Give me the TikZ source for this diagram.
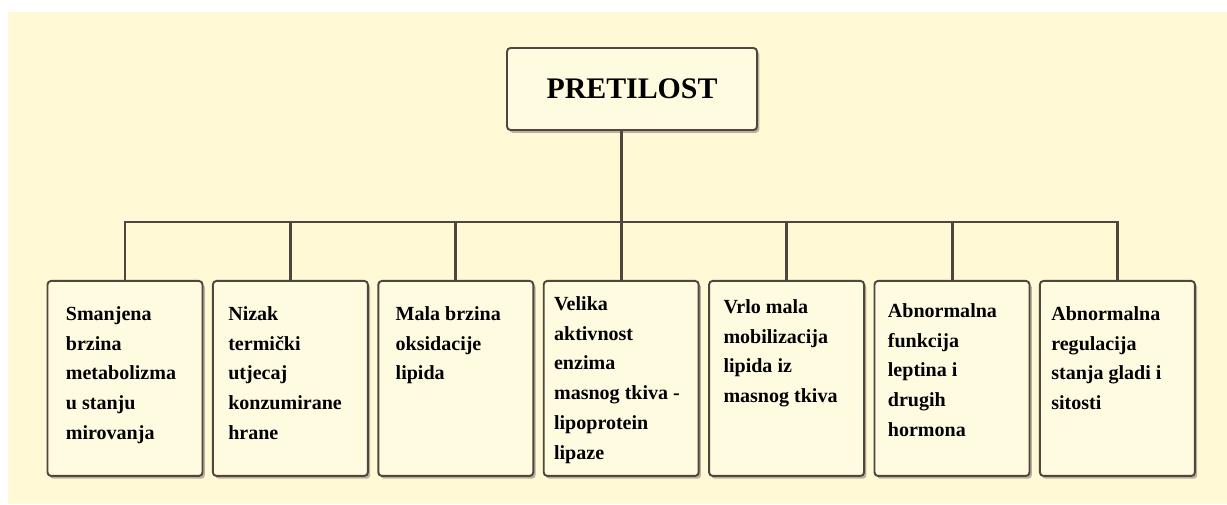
\documentclass[tikz,border=0pt]{standalone}
\usepackage{fontspec}
\setmainfont{Liberation Serif}
\usetikzlibrary{positioning,shadows}
\definecolor{cream}{HTML}{FFF9D6}
\definecolor{boxfill}{HTML}{FFFBE1}
\definecolor{edge}{HTML}{4F463E}
\definecolor{shade}{HTML}{BCB09C}
\tikzset{
  causebox/.style={draw=edge, line width=1.1pt, rounded corners=2pt, fill=boxfill,
    minimum width=3.1cm, minimum height=3.9cm, inner sep=0pt,
    drop shadow={shadow xshift=1.3pt, shadow yshift=-1.6pt, fill=shade, opacity=1}},
  titlebox/.style={causebox, minimum width=5cm, minimum height=1.64cm,
    font=\fontsize{17}{20}\selectfont\bfseries},
  causetext/.style={inner sep=0pt, align=left, anchor=north west,
    font=\fontsize{11.4}{17}\selectfont\bfseries},
  link/.style={draw=edge, line width=1.7pt}
}

\begin{document}
\begin{tikzpicture}[x=0.02cm, y=0.02cm]
  \useasboundingbox (0,0) rectangle (1227,504);
  \fill[cream] (8,0) rectangle (1227,492);

  \node[titlebox] (title) at (632,415) {PRETILOST};

  % seven causes in a row
  \node[causebox, anchor=north] (c1) at (125,224) {};
  \node[causebox, right=0.17cm of c1] (c2) {};
  \node[causebox, right=0.17cm of c2] (c3) {};
  \node[causebox, right=0.17cm of c3] (c4) {};
  \node[causebox, right=0.17cm of c4] (c5) {};
  \node[causebox, right=0.17cm of c5] (c6) {};
  \node[causebox, right=0.17cm of c6] (c7) {};

  \node[causetext, below right=0.52cm and 0.38cm of c1.north west] (t1)
    {Smanjena\\brzina\\metabolizma\\u stanju\\mirovanja};
  \node[causetext, below right=0.52cm and 0.32cm of c2.north west] (t2)
    {Nizak\\termički\\utjecaj\\konzumirane\\hrane};
  \node[causetext, below right=0.52cm and 0.36cm of c3.north west] (t3)
    {Mala brzina\\oksidacije\\lipida};
  \node[causetext, below right=0.32cm and 0.22cm of c4.north west] (t4)
    {Velika\\aktivnost\\enzima\\masnog tkiva -\\lipoprotein\\lipaze};
  \node[causetext, below right=0.38cm and 0.3cm of c5.north west] (t5)
    {Vrlo mala\\mobilizacija\\lipida iz\\masnog tkiva};
  \node[causetext, below right=0.46cm and 0.28cm of c6.north west] (t6)
    {Abnormalna\\funkcija\\leptina i\\drugih\\hormona};
  \node[causetext, below right=0.52cm and 0.24cm of c7.north west] (t7)
    {Abnormalna\\regulacija\\stanja gladi i\\sitosti};

  % tree connectors
  \coordinate (bar) at (0,282);
  \draw[link] (title.south -| c4.north) -- (c4.north);
  \draw[link] (c1.north) -- (c1.north |- bar) -- (c7.north |- bar) -- (c7.north);
  \foreach \k in {2,3,5,6}
    \draw[link] (c\k.north) -- (c\k.north |- bar);
\end{tikzpicture}
\end{document}
